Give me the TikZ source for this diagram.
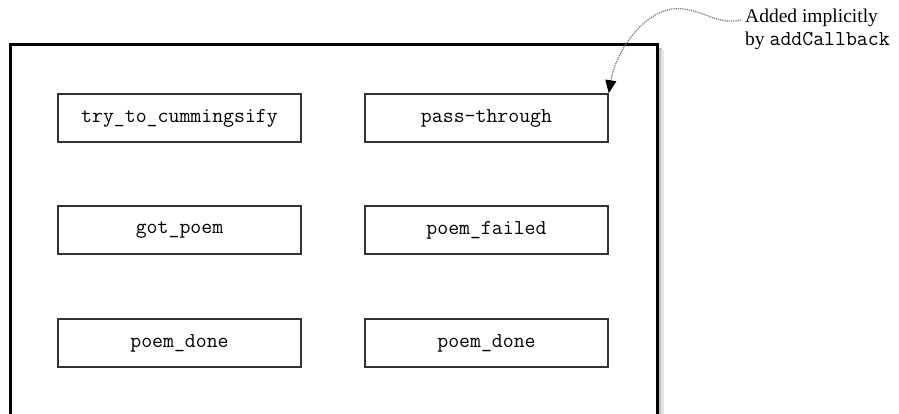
\documentclass[tikz,border=0pt]{standalone}
\usepackage{fontspec}
\setmainfont{Liberation Serif}
\usetikzlibrary{arrows.meta}
\newcommand{\monofnt}{\fontsize{21.2}{24}\selectfont\ttfamily}
\begin{document}
\begin{tikzpicture}[x=1pt,y=-1pt,
  cb/.style={draw=black!80, line width=1.5pt, fill=white, minimum width=243pt, minimum height=48pt, inner sep=0pt,
    font=\monofnt},
  frame/.style={line width=3pt, line join=miter},
  note/.style={align=left, anchor=north west, inner sep=0pt, font=\fontsize{19.5}{22.5}\selectfont}
]
\useasboundingbox (0,0) rectangle (899,414);
% outer frame (open at the bottom) with soft shadow
\coordinate (fbl) at (10,420);
\coordinate (ftl) at (10,45);
\coordinate (ftr) at (657,45);
\coordinate (fbr) at (657,420);
\draw[black!25, line width=3pt] ([xshift=3pt]ftr) ++(0,3) -- ([xshift=3pt]fbr);
\draw[black!10, line width=3pt] ([xshift=5pt]ftr) ++(0,5) -- ([xshift=5pt]fbr);
\draw[frame] (fbl) -- (ftl) -- (ftr) -- (fbr);
% callback boxes
\node[cb] (a1) at (179.5,118) {try\_to\_cummingsify};
\node[cb] (b1) at (486.5,118) {pass-through};
\node[cb] (a2) at (179.5,230) {got\_poem};
\node[cb] (b2) at (486.5,230) {poem\_failed};
\node[cb] (a3) at (179.5,343) {poem\_done};
\node[cb] (b3) at (486.5,343) {poem\_done};
% annotation
\node[note] (n) at (745,9) {Added implicitly\\by {\monofnt addCallback}};
\coordinate (ns) at (741,20);
\draw[black!55, densely dotted, line width=1.2pt, -{Triangle[length=13pt,width=11pt,fill=black,color=black]}]
  (ns) .. controls (715,26) and (700,6) .. (672,9)
       .. controls (640,14) and (615,55) .. (b1.north east);
\end{tikzpicture}
\end{document}
